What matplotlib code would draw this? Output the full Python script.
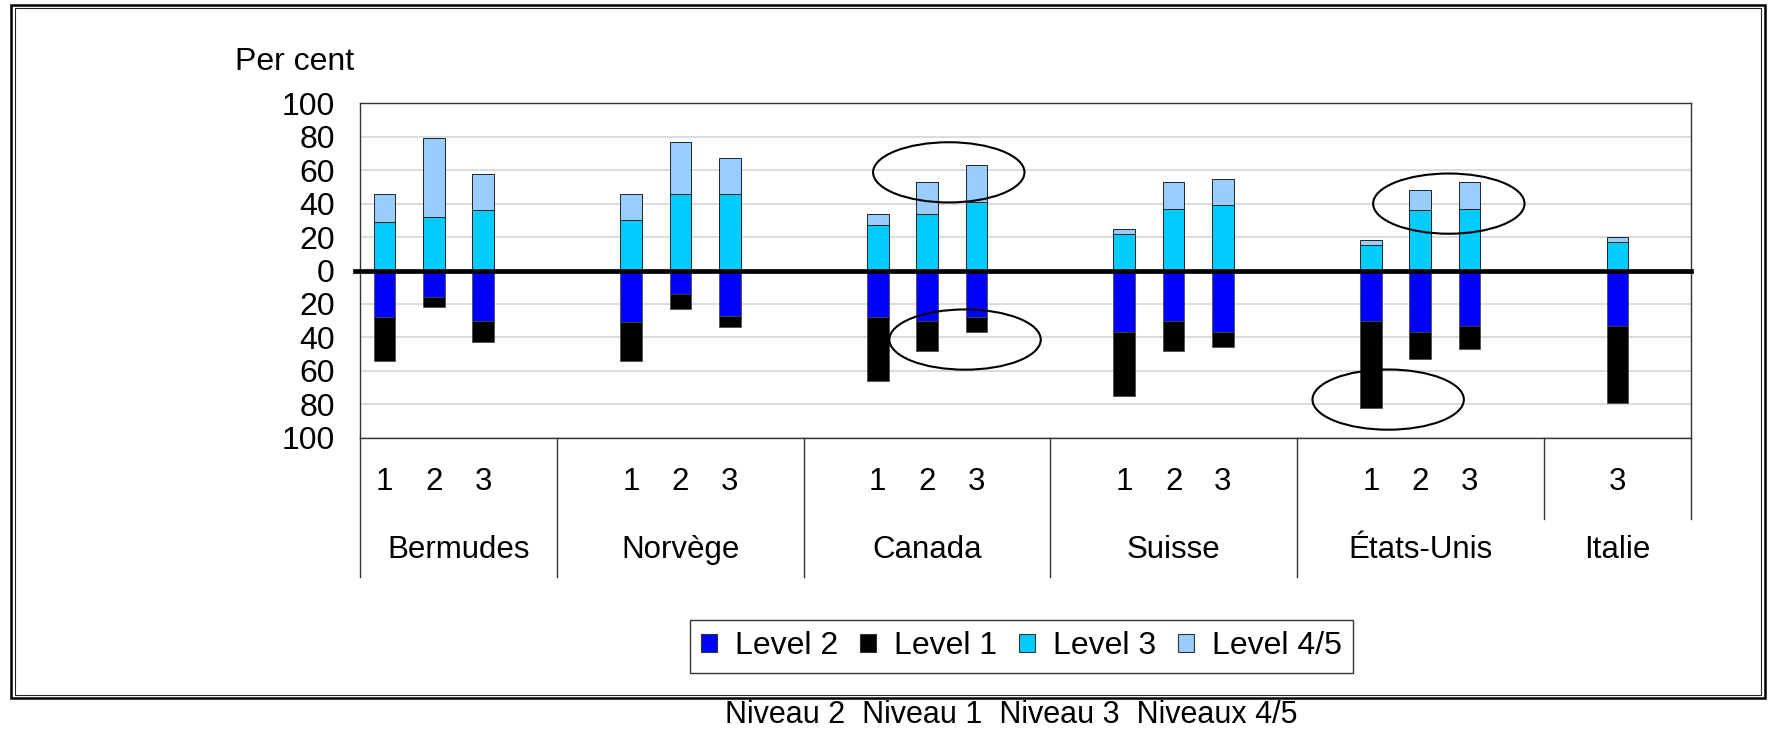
import numpy as np
import matplotlib.pyplot as plt
from matplotlib import font_manager
from matplotlib.patches import Ellipse, Rectangle, Patch

plt.rcParams['font.family'] = ['Liberation Sans', 'DejaVu Sans']

# countries and the cycles shown for each one
countries = ["Bermudes", "Norvège", "Canada", "Suisse", "États-Unis", "Italie"]
cycles = [["1", "2", "3"], ["1", "2", "3"], ["1", "2", "3"],
          ["1", "2", "3"], ["1", "2", "3"], ["3"]]

# per cent of students by level, one value per bar
level3 = [29, 32, 36, 30, 46, 46, 27, 34, 41, 22, 37, 39, 15, 36, 37, 17]
level45 = [17, 47, 22, 16, 31, 21, 7, 19, 22, 3, 16, 16, 3, 12, 16, 3]
level2 = [28, 16, 30, 31, 14, 27, 28, 30, 28, 37, 30, 37, 30, 37, 33, 33]
level1 = [26, 6, 13, 23, 9, 7, 38, 18, 9, 38, 18, 9, 52, 16, 14, 46]

legend_labels = ["Level 2", "Level 1", "Level 3", "Level 4/5"]
footer = "Niveau 2  Niveau 1  Niveau 3  Niveaux 4/5"

# circled areas (x, y, width, height in data units)
circles = [(11.44, 58.7, 3.07, 36), (11.77, -41.3, 3.07, 36),
           (21.58, 40.0, 3.07, 36), (20.35, -77.2, 3.07, 36)]

col_l2 = "#0000ff"
col_l1 = "#000000"
col_l3 = "#00ccff"
col_l45 = "#99ccff"

# each country gets a slot of 5 categories, bars start at the slot's first position
pos = []
for g, cyc in enumerate(cycles):
    for j in range(len(cyc)):
        pos.append(5 * g + j)
pos = np.array(pos)
tick_names = [c for cyc in cycles for c in cyc]

l3 = np.array(level3)
l45 = np.array(level45)
l2 = np.array(level2)
l1 = np.array(level1)

fig = plt.figure(figsize=(17.68, 7.31), dpi=100)
ax = fig.add_axes([0.2036, 0.4012, 0.7531, 0.4575])

w = 0.44
ec = "#222222"
ax.bar(pos, l3, w, color=col_l3, edgecolor=ec, lw=0.7, zorder=3)
ax.bar(pos, l45, w, bottom=l3, color=col_l45, edgecolor=ec, lw=0.7, zorder=3)
ax.bar(pos, -l2, w, color=col_l2, edgecolor="#444444", lw=0.5, zorder=3)
ax.bar(pos, -l1, w, bottom=-l2, color=col_l1, edgecolor="#444444", lw=0.5, zorder=3)

ax.axhline(0, xmin=-0.004, xmax=1, color="black", lw=3.4, zorder=5, clip_on=False)

for (cx, cy, cw, ch) in circles:
    ax.add_patch(Ellipse((cx, cy), cw, ch, fill=False, edgecolor="black", lw=1.5, zorder=6))

ax.set_xlim(-0.5, 26.5)
ax.set_ylim(-100, 100)
yt = np.arange(-100, 101, 20)
ax.set_yticks(yt)
ax.set_yticklabels([str(abs(v)) for v in yt])
ax.tick_params(axis="y", length=0, pad=18, labelsize=23)
ax.set_xticks([])
ax.grid(axis="y", color="#d9d9d9", lw=1.3, zorder=0)
ax.set_axisbelow(True)
for s in ax.spines.values():
    s.set_color("#333333")
    s.set_linewidth(1.0)

# two level category axis drawn below the plot
trans = ax.get_xaxis_transform()
edges = [-0.5] + [5 * g + 3.5 for g in range(len(countries) - 1)] + [26.5]
for k, e in enumerate(edges):
    low = -0.4157 if k < len(edges) - 2 else -0.244
    ax.plot([e, e], [0, low], transform=trans, color="#333333", lw=1.0, clip_on=False)
for p, t in zip(pos, tick_names):
    ax.text(p, -0.1316, t, transform=trans, ha="center", va="center", fontsize=22.5)
for g, name in enumerate(countries):
    ax.text((edges[g] + edges[g + 1]) / 2, -0.336, name, transform=trans,
            ha="center", va="center", fontsize=22.5)

fig.text(0.1329, 0.9156, "Per cent", ha="left", va="center", fontsize=23)

handles = [Patch(facecolor=c, edgecolor="#333333", lw=0.8, label=l)
           for c, l in zip([col_l2, col_l1, col_l3, col_l45], legend_labels)]
leg = fig.legend(handles=handles, loc="center", bbox_to_anchor=(0.5778, 0.1156), ncol=4,
                 fontsize=23, frameon=True, fancybox=False, edgecolor="black",
                 handlelength=0.5, handleheight=0.5, handletextpad=0.55,
                 columnspacing=0.7, borderpad=0.35)
leg.get_frame().set_linewidth(1.0)

# double border round the chart
fig.add_artist(Rectangle((0.0065, 0.0451), 0.9918, 0.9481, transform=fig.transFigure,
                         fill=False, edgecolor="black", lw=1.8))
fig.add_artist(Rectangle((0.0085, 0.0498), 0.9878, 0.9395, transform=fig.transFigure,
                         fill=False, edgecolor="#222222", lw=0.8))

# the footer line is set in a condensed face
try:
    font_manager.findfont("Liberation Sans Narrow", fallback_to_default=False)
    foot_family, foot_size = "Liberation Sans Narrow", 24
except ValueError:
    foot_family, foot_size = "Liberation Sans", 22
fig.text(0.5718, 0.0008, footer, ha="center", va="bottom",
         family=[foot_family, "DejaVu Sans"], fontsize=foot_size)

fig.savefig("out.png", dpi=100)
